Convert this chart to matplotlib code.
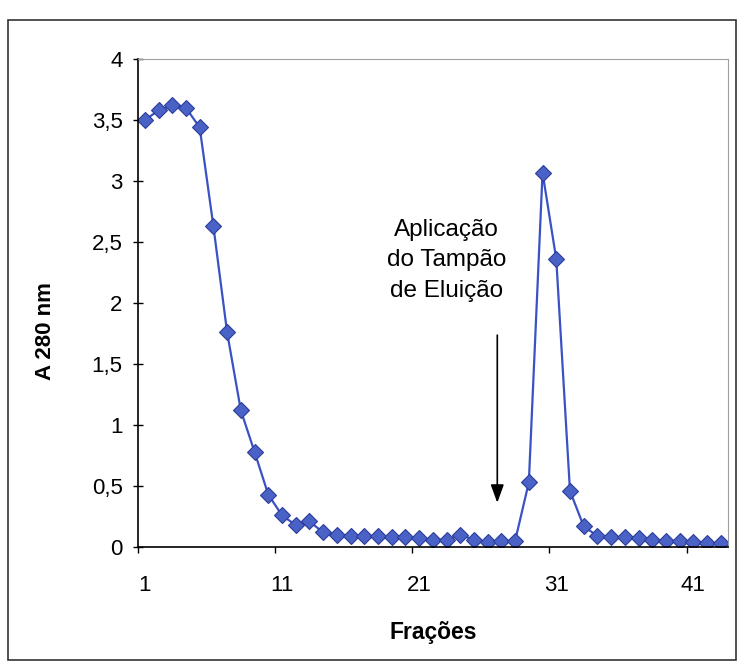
import matplotlib.pyplot as plt
from matplotlib.patches import Rectangle

# Frações 1..43 e absorbância a 280 nm
fracoes = list(range(1, 44))
absorbancia = [3.50, 3.58, 3.62, 3.60, 3.44, 2.63, 1.76, 1.12, 0.78, 0.43,
               0.26, 0.18, 0.21, 0.12, 0.10, 0.09, 0.09, 0.09, 0.08, 0.08,
               0.07, 0.06, 0.06, 0.10, 0.06, 0.04, 0.05, 0.05, 0.53, 3.07,
               2.36, 0.46, 0.17, 0.09, 0.08, 0.08, 0.07, 0.06, 0.05, 0.05,
               0.04, 0.03, 0.03]

x_labels = [1, 11, 21, 31, 41]
y_ticks = [0, 0.5, 1, 1.5, 2, 2.5, 3, 3.5, 4]
y_labels = ['0', '0,5', '1', '1,5', '2', '2,5', '3', '3,5', '4']

plt.rcParams['font.family'] = ['Liberation Sans', 'DejaVu Sans']

fig = plt.figure(figsize=(7.39, 6.72), dpi=100)
ax = fig.add_axes([0.1867, 0.186, 0.798, 0.726])

ax.plot(fracoes, absorbancia, color='#3a52c4', linewidth=1.6,
        marker='D', markersize=8, markerfacecolor='#4a62c6', markeredgecolor='#2a3c9a',
        markeredgewidth=0.8)

ax.set_xlim(0.5, 43.5)
ax.set_ylim(0, 4)

# marcas entre categorias, rótulos nas categorias (estilo Excel)
ax.set_xticks([0.5, 10.5, 20.5, 30.5, 40.5])
ax.set_xticklabels([])
ax.tick_params(axis='x', which='major', direction='out', length=4, width=1)
ax.set_xticks(x_labels, minor=True)
ax.set_xticklabels([str(v) for v in x_labels], minor=True)
ax.tick_params(axis='x', which='minor', length=0, pad=20, labelsize=16)

ax.set_yticks(y_ticks)
ax.set_yticklabels(y_labels)
ax.tick_params(axis='y', direction='inout', length=7, width=1, pad=7.5, labelsize=16)

ax.set_xlabel('Frações', fontsize=16.5, fontweight='bold', labelpad=18)
ax.set_ylabel('A 280 nm', fontsize=16, fontweight='bold')
ax.yaxis.set_label_coords(-0.139, 0.443)

for lado in ['top', 'right']:
    ax.spines[lado].set_color('#a0a0a0')
    ax.spines[lado].set_linewidth(0.8)
for lado in ['left', 'bottom']:
    ax.spines[lado].set_color('black')
    ax.spines[lado].set_linewidth(1.2)

ax.text(23.0, 2.35, 'Aplicação\ndo Tampão\nde Eluição', ha='center', va='center',
        fontsize=17.5, linespacing=1.5, multialignment='center')
ax.annotate('', xy=(26.7, 0.34), xytext=(26.7, 1.76),
            arrowprops=dict(arrowstyle='-|>,head_length=1.1,head_width=0.4',
                            color='black', linewidth=1.2))

# moldura externa do gráfico
fig.patches.append(Rectangle((8 / 739, 12 / 672), 728 / 739, 640 / 672,
                             transform=fig.transFigure, fill=False,
                             edgecolor='#333333', linewidth=1.2))

fig.savefig('out.png', dpi=100)
